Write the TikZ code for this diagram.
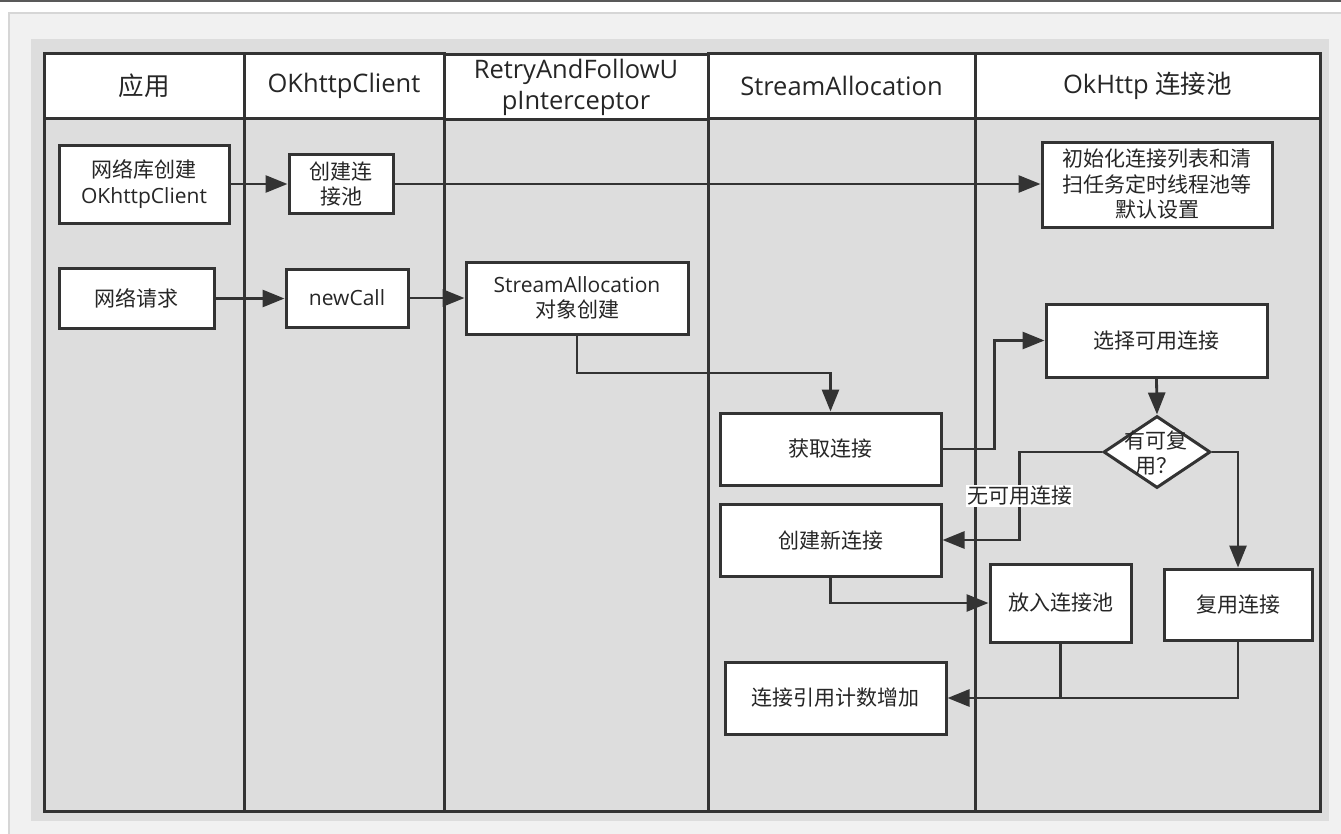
\documentclass[tikz,border=0pt]{standalone}
\usepackage{fontspec}
\setmainfont{Open Sans}
\newfontfamily\cjk{Noto Sans CJK SC}
\usetikzlibrary{arrows.meta,shapes.geometric}
\definecolor{ln}{HTML}{333333}
\definecolor{txt}{HTML}{262626}
\definecolor{lanegray}{HTML}{DDDDDD}
\definecolor{outergray}{HTML}{F1F1F1}
\definecolor{outerborder}{HTML}{D6D6D6}
\newcommand{\hdrfont}{\fontsize{25.5}{31}\selectfont}
\newcommand{\boxfont}{\fontsize{21}{25.5}\selectfont}
\tikzset{
  lanebody/.style={draw=ln, line width=3pt, fill=lanegray, inner sep=0},
  hdr/.style={draw=ln, line width=3pt, fill=white, inner sep=0, font=\hdrfont, text=txt, align=center},
  boxn/.style={draw=ln, line width=3pt, fill=white, inner sep=0, font=\boxfont, text=txt, align=center},
  conn/.style={draw=ln, line width=2.8pt, -{Triangle[length=22pt,width=17pt]}},
  plainln/.style={draw=ln, line width=2.8pt},
  lbl/.style={fill=white, inner sep=1pt, font=\boxfont, text=txt}
}
\begin{document}
\begin{tikzpicture}[x=1pt,y=-1pt]
\useasboundingbox (0,0) rectangle (1341,833);
% page background
\fill[white] (0,0) rectangle (1341,833);
\draw[line width=1.6pt, draw=black!65] (0,0.8) -- (1341,0.8);
\filldraw[fill=outergray, draw=outerborder, line width=1.5pt] (9,13) rectangle (1345,837);
\fill[lanegray] (31,39) rectangle (1329,821);
% lanes: bodies
\node[lanebody, minimum width=200pt, minimum height=693pt] (l1) at (144,464.5) {};
\node[lanebody, minimum width=200pt, minimum height=693pt] (l2) at (344,464.5) {};
\node[lanebody, minimum width=264pt, minimum height=693pt] (l3) at (576,464.5) {};
\node[lanebody, minimum width=267pt, minimum height=693pt] (l4) at (841.5,464.5) {};
\node[lanebody, minimum width=345pt, minimum height=693pt] (l5) at (1147.5,464.5) {};
% lanes: headers
\node[hdr, minimum width=200pt, minimum height=65pt] (h1) at (144,85.5) {{\cjk 应用}};
\node[hdr, minimum width=200pt, minimum height=65pt] (h2) at (344,85.5) {OKhttpClient};
\node[hdr, minimum width=264pt, minimum height=65pt] (h3) at (576,87) {RetryAndFollowU\\pInterceptor};
\node[hdr, minimum width=267pt, minimum height=65pt] (h4) at (841.5,85.5) {StreamAllocation};
\node[hdr, minimum width=345pt, minimum height=65pt] (h5) at (1147.5,85.5) {OkHttp {\cjk 连接池}};
% boxes
\node[boxn, minimum width=170pt, minimum height=78pt] (a1) at (144,184) {{\cjk 网络库创建}\\OKhttpClient};
\node[boxn, minimum width=104pt, minimum height=59pt] (b1) at (341,184) {{\cjk 创建连}\\{\cjk 接池}};
\node[boxn, minimum width=230pt, minimum height=85pt] (e1) at (1157,184.5) {{\cjk 初始化连接列表和清}\\{\cjk 扫任务定时线程池等}\\{\cjk 默认设置}};
\node[boxn, minimum width=155pt, minimum height=60pt] (a2) at (136.5,298.5) {{\cjk 网络请求}};
\node[boxn, minimum width=122pt, minimum height=58pt] (b2) at (347,298) {newCall};
\node[boxn, minimum width=222pt, minimum height=72pt] (c1) at (577,298) {StreamAllocation\\{\cjk 对象创建}};
\node[boxn, minimum width=221pt, minimum height=72pt] (d1) at (830.5,449) {{\cjk 获取连接}};
\node[boxn, minimum width=221pt, minimum height=73pt] (e2) at (1156.5,340.5) {{\cjk 选择可用连接}};
\node[diamond, draw=ln, line width=3pt, fill=white, inner sep=0, minimum width=107pt, minimum height=72pt] (dia) at (1157,452) {};
\node[font=\boxfont, text=txt, align=center, inner sep=0] (diat) at (1156,453) {{\cjk 有可复}\\{\cjk 用？}};
\node[boxn, minimum width=221pt, minimum height=72pt] (d2) at (830.5,540) {{\cjk 创建新连接}};
\node[boxn, minimum width=141pt, minimum height=78pt] (e3) at (1060.5,603) {{\cjk 放入连接池}};
\node[boxn, minimum width=148pt, minimum height=71pt] (e4) at (1238,604.5) {{\cjk 复用连接}};
\node[boxn, minimum width=221pt, minimum height=72pt] (d3) at (835.5,698) {{\cjk 连接引用计数增加}};
% connectors
\coordinate (k1) at (577,373);
\draw[conn] (a1.east) -- (a1.east -| b1.west);
\draw[conn] (b1.east) -- (b1.east -| e1.west);
\draw[conn] (a2.east) -- (a2.east -| b2.west);
\draw[conn] (b2.east) -- (b2.east -| c1.west);
\draw[conn] (c1.south) -- (k1) -| (d1.north);
\draw[conn] (d1.east) -- ++(52,0) |- (e2.west);
\draw[conn] (e2.south) -- (dia.north);
\draw[conn] (dia.west) -- ++(-82.5,0) |- node[pos=0.25, lbl] (nolbl) {{\cjk 无可用连接}} (d2.east);
\draw[conn] (dia.east) -| (e4.north);
\draw[conn] (d2.south) |- (e3.west);
\draw[plainln] (e3.south) -- (e3.south |- d3.east);
\draw[conn] (e4.south) |- (d3.east);
\end{tikzpicture}
\end{document}
